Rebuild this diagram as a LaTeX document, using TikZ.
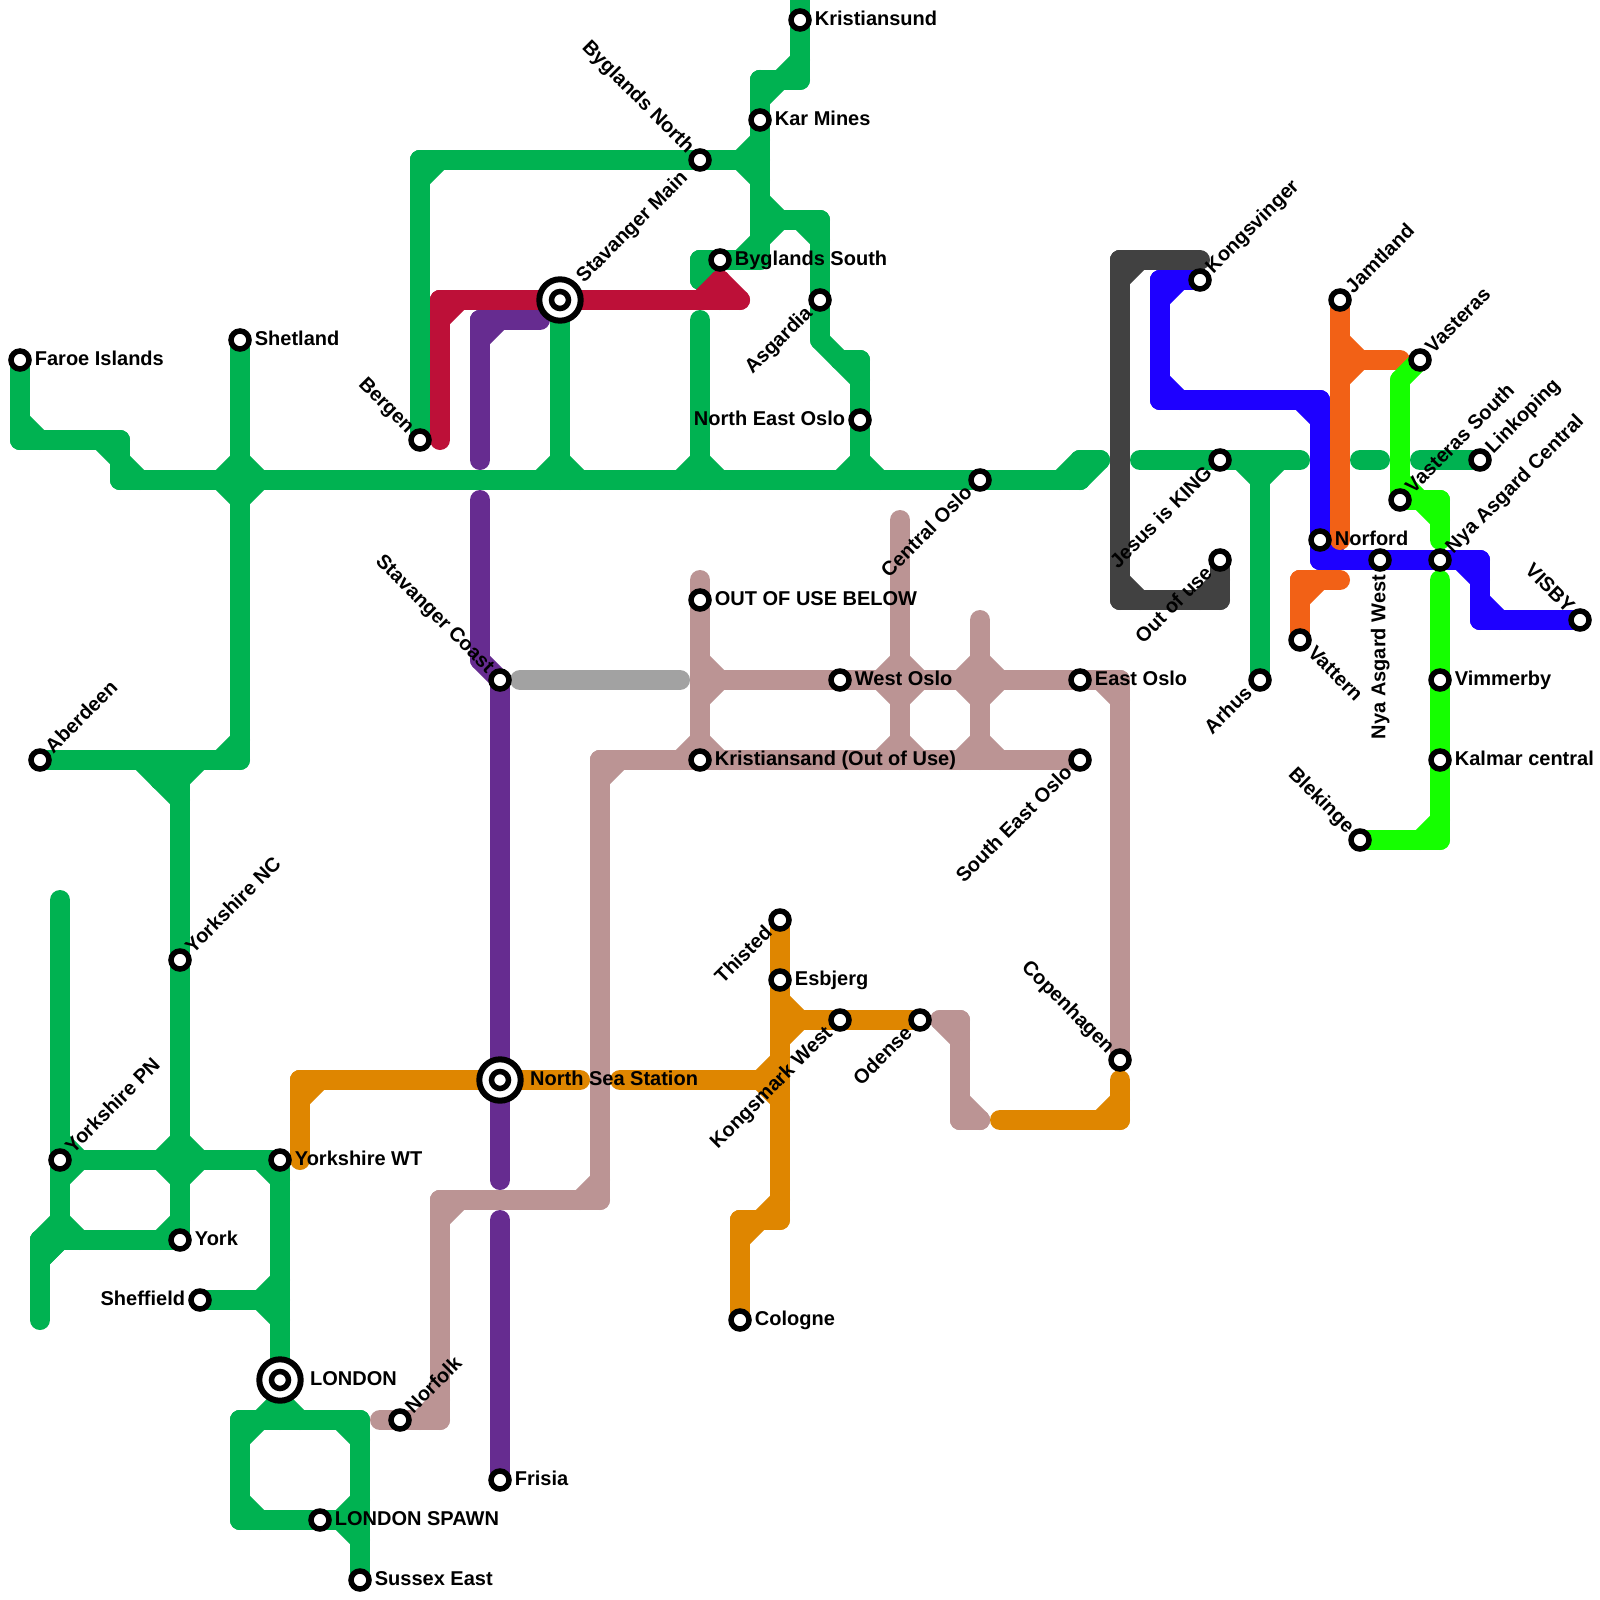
\documentclass[tikz,border=0pt]{standalone}
\usepackage{fontspec}
\setmainfont{Liberation Sans}
\definecolor{mGreen}{HTML}{00B251}
\definecolor{mRed}{HTML}{BD1038}
\definecolor{mPurple}{HTML}{662C90}
\definecolor{mSilver}{HTML}{A2A2A2}
\definecolor{mRose}{HTML}{BB9494}
\definecolor{mAmber}{HTML}{DF8600}
\definecolor{mGrey}{HTML}{414141}
\definecolor{mBlue}{HTML}{1E00FF}
\definecolor{mOrange}{HTML}{F26116}
\definecolor{mLime}{HTML}{15FF00}
\tikzset{
  trackseg/.style={line width=10pt,line cap=round},
  stop/.style={circle,draw=black,fill=white,line width=2.75pt,inner sep=0pt,outer sep=0pt,minimum size=9pt},
  hubin/.style={circle,draw=black,fill=white,line width=2.75pt,inner sep=0pt,outer sep=0pt,minimum size=8.5pt},
  hub/.style={circle,draw=black,fill=white,line width=3pt,inner sep=0pt,outer sep=0pt,minimum size=20.7pt},
  lbl/.style={inner sep=0pt,outer sep=0pt,font=\bfseries\fontsize{10pt}{12pt}\selectfont,text=black}
}
% neighbour test: a segment joins every two cells of one colour that touch
\newcommand\trynb[2]{%
  \edef\nbx{\the\numexpr\xx+#1\relax}\edef\nby{\the\numexpr\yy+#2\relax}%
  \ifcsname mc@\curcol @\nbx @\nby\endcsname
    \draw[trackseg,draw=\curcol] (g\xx-\yy) -- (g\nbx-\nby);
  \fi}
\newcommand\mline[2]{%
  \def\curcol{#1}%
  \foreach \xa/\ya/\xb/\yb in {#2}{%
    \foreach \xx in {\xa,...,\xb}{\foreach \yy in {\ya,...,\yb}{%
      \expandafter\gdef\csname mc@#1@\xx @\yy\endcsname{}%
      \coordinate (g\xx-\yy) at (\xx,\yy);%
    }}}%
  \foreach \xa/\ya/\xb/\yb in {#2}{%
    \foreach \xx in {\xa,...,\xb}{\foreach \yy in {\ya,...,\yb}{%
      \trynb{1}{0}\trynb{0}{1}\trynb{1}{1}\trynb{-1}{1}%
    }}}%
}
% stations: [offset], id, x, y, text angle, text
\newcommand\stR[6][7.45pt]{\node[stop] (#2) at (#3,#4) {};
  \path (#2.center) ++(#5:#1) ++(#5-90:2.65pt) node[lbl,anchor=base west,rotate=#5] (#2-t) {#6};}
\newcommand\stL[6][7.45pt]{\node[stop] (#2) at (#3,#4) {};
  \path (#2.center) ++(#5:-#1) ++(#5-90:2.65pt) node[lbl,anchor=base east,rotate=#5] (#2-t) {#6};}
\newcommand\hubR[6][15.1pt]{\node[hub] (#2) at (#3,#4) {}; \node[hubin] (#2-i) at (#2.center) {};
  \path (#2.center) ++(#5:#1) ++(#5-90:2.65pt) node[lbl,anchor=base west,rotate=#5] (#2-t) {#6};}
\begin{document}
\begin{tikzpicture}[x=10pt,y=-10pt]
\fill[white] (0,0) rectangle (80,80);
\clip (0,0) rectangle (80,80);
\mline{mGreen}{1/18/1/22,1/22/6/22,6/22/6/24,6/24/54/24,54/23/55/23,
  12/17/12/38,2/38/12/38,8/39/8/39,9/38/9/62,
  3/45/3/62,3/58/14/58,2/62/9/62,2/62/2/66,14/58/14/71,10/65/14/65,
  12/71/18/71,12/71/12/76,18/71/18/79,12/76/18/76,
  21/8/21/22,21/8/38/8,38/4/38/13,38/4/40/4,40/0/40/4,
  38/11/41/11,41/11/41/17,42/18/43/18,43/18/43/24,
  35/13/38/13,35/13/35/14,28/16/28/24,35/16/35/24,
  57/23/65/23,63/23/63/34,68/23/69/23,71/23/74/23}
\mline{mRose}{35/29/35/38,35/34/56/34,45/26/45/38,49/31/49/38,30/38/54/38,
  30/38/30/60,22/60/30/60,22/60/22/71,19/71/22/71,56/34/56/53,
  47/51/48/51,48/51/48/56,48/56/49/56}
\mline{mSilver}{26/34/34/34}
\mline{mPurple}{24/16/24/23,24/16/27/16,24/25/24/33,25/34/25/59,25/61/25/74}
\mline{mRed}{22/15/37/15,22/15/22/22,36/14/36/14}
\mline{mAmber}{15/54/29/54,15/54/15/58,31/54/39/54,39/46/39/61,39/51/46/51,
  37/61/39/61,37/61/37/66,50/56/56/56,56/54/56/56}
\mline{mGrey}{56/13/56/30,56/13/60/13,56/30/61/30,61/28/61/30}
\mline{mBlue}{58/14/60/14,58/14/58/20,58/20/66/20,66/20/66/28,66/28/74/28,74/28/74/31,74/31/79/31}
\mline{mOrange}{67/15/67/27,67/18/70/18,65/29/65/32,65/29/67/29}
\mline{mLime}{72/29/72/42,68/42/72/42,71/18/71/18,70/19/70/25,70/25/72/25,72/25/72/27}
% stations
\stR{faroe}{1}{18}{0}{Faroe Islands}
\stR{shetland}{12}{17}{0}{Shetland}
\stR{kristiansund}{40}{1}{0}{Kristiansund}
\stR{karmines}{38}{6}{0}{Kar Mines}
\stR{byglandss}{36}{13}{0}{Byglands South}
\stR{outofusebelow}{35}{30}{0}{OUT OF USE BELOW}
\stR{westoslo}{42}{34}{0}{West Oslo}
\stR{eastoslo}{54}{34}{0}{East Oslo}
\stR{kristiansand}{35}{38}{0}{Kristiansand (Out of Use)}
\stR{norford}{66}{27}{0}{Norford}
\stR{vimmerby}{72}{34}{0}{Vimmerby}
\stR{kalmar}{72}{38}{0}{Kalmar central}
\stR{esbjerg}{39}{49}{0}{Esbjerg}
\stR{cologne}{37}{66}{0}{Cologne}
\stR{york}{9}{62}{0}{York}
\stR{yorkwt}{14}{58}{0}{Yorkshire WT}
\stR{frisia}{25}{74}{0}{Frisia}
\stR{spawn}{16}{76}{0}{LONDON SPAWN}
\stR{sussex}{18}{79}{0}{Sussex East}
\stL{sheffield}{10}{65}{0}{Sheffield}
\stL{neoslo}{43}{21}{0}{North East Oslo}
\stR[6.85pt]{aberdeen}{2}{38}{45}{Aberdeen}
\stR[6.85pt]{yorknc}{9}{48}{45}{Yorkshire NC}
\stR[6.85pt]{yorkpn}{3}{58}{45}{Yorkshire PN}
\stR[6.85pt]{norfolk}{20}{71}{45}{Norfolk}
\stR[6.85pt]{kongsvinger}{60}{14}{45}{Kongsvinger}
\stR[6.85pt]{jamtland}{67}{15}{45}{Jamtland}
\stR[6.85pt]{vasteras}{71}{18}{45}{Vasteras}
\stR[6.85pt]{vasterass}{70}{25}{45}{Vasteras South}
\stR[6.85pt]{linkoping}{74}{23}{45}{Linkoping}
\stR[6.85pt]{nyacentral}{72}{28}{45}{Nya Asgard Central}
\stL{centraloslo}{49}{24}{45}{Central Oslo}
\stL{asgardia}{41}{15}{45}{Asgardia}
\stL{jesus}{61}{23}{45}{Jesus is KING}
\stL{outofuse}{61}{28}{45}{Out of use}
\stL{arhus}{63}{34}{45}{Arhus}
\stL{seoslo}{54}{38}{45}{South East Oslo}
\stL{kongsmark}{42}{51}{45}{Kongsmark West}
\stL{thisted}{39}{46}{45}{Thisted}
\stL{odense}{46}{51}{45}{Odense}
\stL[6.85pt]{byglandsn}{35}{8}{-45}{Byglands North}
\stL[6.85pt]{bergen}{21}{22}{-45}{Bergen}
\stL[6.85pt]{stavcoast}{25}{34}{-45}{Stavanger Coast}
\stL[6.85pt]{copenhagen}{56}{53}{-45}{Copenhagen}
\stL[6.85pt]{blekinge}{68}{42}{-45}{Blekinge}
\stL[6.85pt]{visby}{79}{31}{-45}{VISBY}
\stR{vattern}{65}{32}{-45}{Vattern}
\stL{nyawest}{69}{28}{90}{Nya Asgard West}
\hubR{london}{14}{69}{0}{LONDON}
\hubR{northsea}{25}{54}{0}{North Sea Station}
\hubR[14.4pt]{stavmain}{28}{15}{45}{Stavanger Main}
\end{tikzpicture}
\end{document}
